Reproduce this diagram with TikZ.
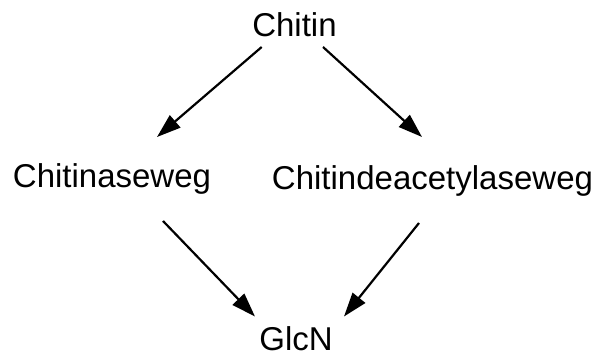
\documentclass[tikz,border=0pt]{standalone}
\usepackage{fontspec}
\setmainfont{Liberation Sans}
\usetikzlibrary{arrows.meta}

\begin{document}
\begin{tikzpicture}[x=1pt,y=1pt,
    stoff/.style={anchor=base,inner sep=0pt,font=\fontsize{33}{40}\selectfont},
    pfeil/.style={line width=2.2pt,-{Triangle[length=24pt,width=16pt]}}]
    \useasboundingbox (0,0) rectangle (600,358);
    \node[stoff] (chitin) at (294.5,321) {Chitin};
    \node[stoff] (chitinase) at (112,170) {Chitinaseweg};
    \node[stoff] (deacetyl) at (432.5,168) {Chitindeacetylaseweg};
    \node[stoff] (glcn) at (296,7.5) {GlcN};
    % 
    \draw[pfeil] ([shift={(-32.8,-10)}]chitin.base) -- ([shift={(45,51)}]chitinase.base);
    \draw[pfeil] ([shift={(28.5,-10)}]chitin.base) -- ([shift={(-10.5,53)}]deacetyl.base);
    \draw[pfeil] ([shift={(51,-33)}]chitinase.base) -- ([shift={(-41,34)}]glcn.base);
    \draw[pfeil] ([shift={(-13.5,-33)}]deacetyl.base) -- ([shift={(48,34)}]glcn.base);
\end{tikzpicture}
\end{document}
